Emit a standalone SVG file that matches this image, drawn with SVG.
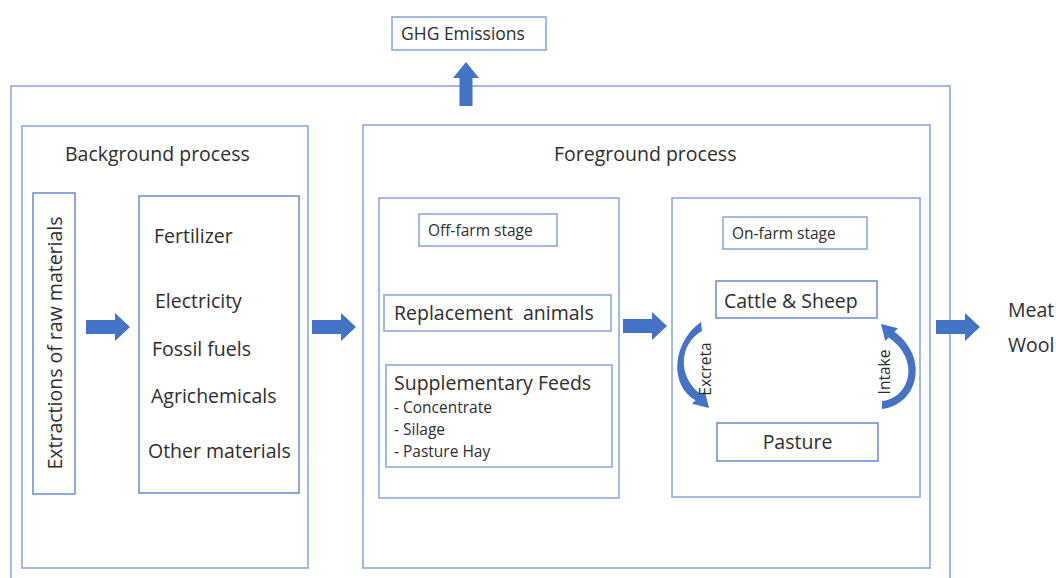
<svg xmlns="http://www.w3.org/2000/svg" width="1056" height="578" viewBox="0 0 1056 578">
<style>
.box{fill:none;stroke:#8eaadb;stroke-width:1.6}
.box2{fill:#fff;stroke:#6f94d4;stroke-width:1.6}
.arr{fill:#4472c4}
text{font-family:"Open Sans","Liberation Sans",sans-serif;fill:#2e2e2e}
.t19{font-size:19.5px}
.t15{font-size:15.5px}
</style>
<rect width="1056" height="578" fill="#fff"/>
<g id="outer"><rect class="box" x="11" y="86" width="939" height="520"/></g>
<g id="ghg"><rect class="box" x="392" y="17" width="154" height="33"/><text x="401" y="40" style="font-size:17.5px">GHG Emissions</text></g>
<g id="background"><rect class="box" x="22" y="126" width="286" height="442"/><text class="t19" x="65" y="161">Background process</text></g>
<g id="extraction"><rect class="box2" x="33" y="193" width="42" height="301"/><text class="t19" transform="translate(62,343) rotate(-90)" text-anchor="middle">Extractions of raw materials</text></g>
<g id="materials"><rect class="box2" x="139" y="196" width="160" height="297"/>
<text class="t19" x="154" y="243">Fertilizer</text>
<text class="t19" x="155" y="308">Electricity</text>
<text class="t19" x="152" y="356">Fossil fuels</text>
<text class="t19" x="151" y="403">Agrichemicals</text>
<text class="t19" x="148" y="458">Other materials</text></g>
<g id="foreground"><rect class="box" x="363" y="125" width="567" height="443"/><text class="t19" x="554" y="161">Foreground process</text></g>
<g id="offfarm"><rect class="box" x="379" y="198" width="240" height="300"/>
<rect class="box" x="419" y="214" width="138" height="32"/><text class="t15" x="428" y="236">Off-farm stage</text></g>
<g id="replacement"><rect class="box" x="384" y="295" width="227" height="36"/><text class="t19" x="394" y="320" xml:space="preserve">Replacement  animals</text></g>
<g id="feeds"><rect class="box" x="386" y="365" width="226" height="102"/>
<text class="t19" x="394" y="390">Supplementary Feeds</text>
<text class="t15" x="394" y="413">- Concentrate</text>
<text class="t15" x="394" y="435">- Silage</text>
<text class="t15" x="394" y="457">- Pasture Hay</text></g>
<g id="onfarm"><rect class="box" x="672" y="198" width="248" height="299"/>
<rect class="box" x="723" y="217" width="144" height="32"/><text class="t15" x="732" y="239">On-farm stage</text></g>
<g id="cattle"><rect class="box2" x="716" y="281" width="161" height="37"/><text class="t19" x="724" y="308">Cattle &amp; Sheep</text></g>
<g id="pasture"><rect class="box2" x="717" y="423" width="161" height="38"/><text class="t19" x="797.5" y="449" text-anchor="middle">Pasture</text></g>
<g id="products"><text class="t19" x="1008" y="317">Meat</text><text class="t19" x="1008" y="352">Wool</text></g>
<g id="connectors">
<path class="arr" d="M459.5 106 V78 H453 L466 62 L479 78 H472.5 V106 Z"/>
<path class="arr" d="M86 320 H115 V313 L130 327 L115 341 V334 H86 Z"/>
<path class="arr" d="M312 320 H341 V313 L356 327 L341 341 V334 H312 Z"/>
<path class="arr" d="M623 319 H652 V312 L667 326 L652 340 V333 H623 Z"/>
<path class="arr" d="M936 320 H965 V313 L980 327 L965 341 V334 H936 Z"/>
<path class="arr" d="M701 322 C672 342 669 386 695.6 400.2 L692 403.8 L709 408 L704.8 391 L701.2 394.6 C676 376 680 343 702 331 Z"/>
<path class="arr" d="M882 409 C918 405 930 358 894.4 331.8 L898 328.2 L881 324 L885.2 341 L888.8 337.4 C921 360 910 398 882 401 Z"/>
<text transform="translate(711,369) rotate(-90)" text-anchor="middle" style="font-size:15.5px">Excreta</text>
<text transform="translate(890,372) rotate(-90)" text-anchor="middle" style="font-size:15.5px">Intake</text>
</g>
</svg>
